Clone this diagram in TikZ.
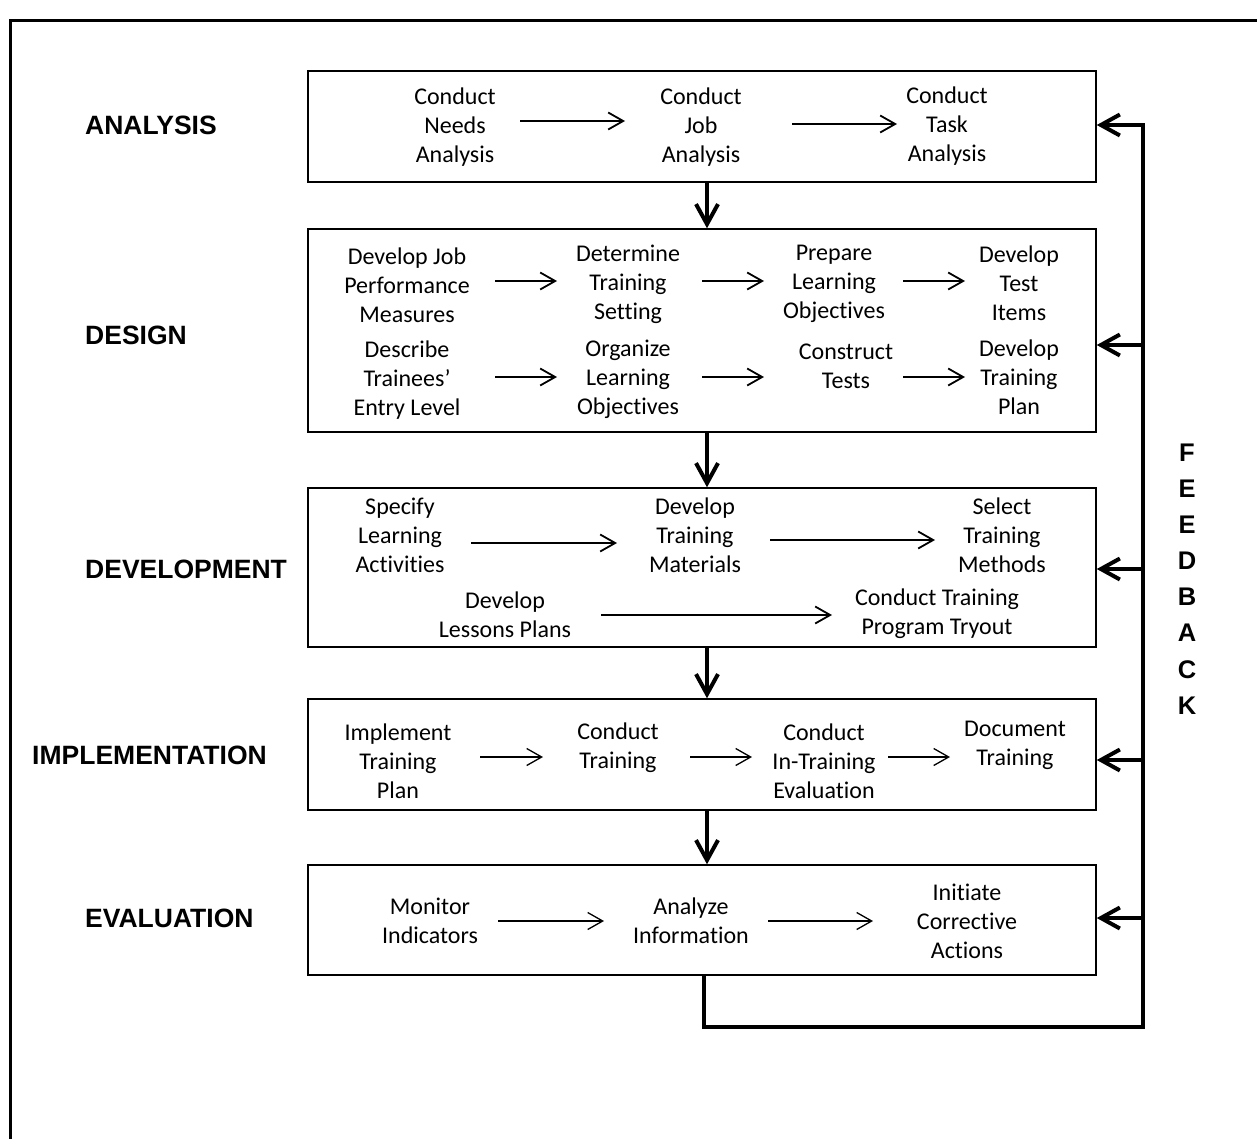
\documentclass[tikz,border=0pt]{standalone}
\usepackage{fontspec}
\setmainfont{Carlito}[Ligatures={NoCommon}]
\newfontfamily\labfont{Liberation Sans}
\usetikzlibrary{arrows.meta}
\begin{document}
\begin{tikzpicture}[x=1pt,y=-1pt,
  txt/.style={align=center,inner sep=0pt,font=\fontsize{24}{29}\selectfont},
  lab/.style={anchor=west,inner sep=0pt,font=\labfont\bfseries\fontsize{26.5}{30}\selectfont},
  box/.style={draw,line width=1.5pt,rectangle,minimum width=788pt,inner sep=0pt},
  ia/.style={line width=1.8pt,-{Straight Barb[length=15pt,width=17pt]}},
  ib/.style={line width=1.3pt,-{Straight Barb[length=15pt,width=17pt]}},
  da/.style={line width=4pt,-{Straight Barb[length=20pt,width=22pt]}},
  fb/.style={line width=4pt},
  fa/.style={line width=4pt,-{Straight Barb[length=19pt,width=21pt]}}]
\useasboundingbox (0,0) rectangle (1257,1138);
% outer frame
\draw[line width=3pt] (10,1140) -- (10,20) -- (1260,20);

% boxes
\node[box,minimum height=111pt] (BA) at (702,126.5) {};
\node[box,minimum height=203pt] (BD) at (702,330.5) {};
\node[box,minimum height=159pt] (BV) at (702,567.5) {};
\node[box,minimum height=111pt] (BI) at (702,754.5) {};
\node[box,minimum height=110pt] (BE) at (702,920) {};

% stage labels
\node[lab] (LA) at (85,125) {ANALYSIS};
\node[lab] (LD) at (85,335) {DESIGN};
\node[lab] (LV) at (85,569) {DEVELOPMENT};
\node[lab] (LI) at (32,755) {IMPLEMENTATION};
\node[lab] (LE) at (85,918) {EVALUATION};

% analysis
\node[txt] (A1) at (455,127) {Conduct\\Needs\\Analysis};
\node[txt] (A2) at (701,127) {Conduct\\Job\\Analysis};
\node[txt] (A3) at (947,126) {Conduct\\Task\\Analysis};
\draw[ia] ([shift={(65,-6)}]A1.center) -- ([shift={(-76,-6)}]A2.center);
\draw[ia] ([shift={(91,-3)}]A2.center) -- ([shift={(-50,-2)}]A3.center);

% design
\node[txt] (D1) at (407,285) {Develop Job\\Performance\\Measures};
\node[txt] (D2) at (628,284) {Determine\\Training\\Setting};
\node[txt] (D3) at (834,284) {Prepare\\Learning\\Objectives};
\node[txt] (D4) at (1019,283) {Develop\\Test\\Items};
\draw[ia] ([shift={(88,-4)}]D1.center) -- ([shift={(-71,-3)}]D2.center);
\draw[ia] ([shift={(74,-3)}]D2.center) -- ([shift={(-70,-3)}]D3.center);
\draw[ia] ([shift={(69,-3)}]D3.center) -- ([shift={(-54,-2)}]D4.center);
\node[txt] (D5) at (407,380) {Describe\\Trainees’\\Entry Level};
\node[txt] (D6) at (628,379) {Organize\\Learning\\Objectives};
\node[txt] (D7) at (846,366) {Construct\\Tests};
\node[txt] (D8) at (1019,377) {Develop\\Training\\Plan};
\draw[ia] ([shift={(88,-3)}]D5.center) -- ([shift={(-71,-2)}]D6.center);
\draw[ia] ([shift={(74,-2)}]D6.center) -- ([shift={(-82,11)}]D7.center);
\draw[ia] ([shift={(57,11)}]D7.center) -- ([shift={(-54,0)}]D8.center);

% development
\node[txt] (V1) at (400,535) {Specify\\Learning\\Activities};
\node[txt] (V2) at (695,535) {Develop\\Training\\Materials};
\node[txt] (V3) at (1002,535) {Select\\Training\\Methods};
\draw[ia] ([shift={(71,8)}]V1.center) -- ([shift={(-78,8)}]V2.center);
\draw[ia] ([shift={(75,5)}]V2.center) -- ([shift={(-67,5)}]V3.center);
\node[txt] (V4) at (505,615) {Develop\\Lessons Plans};
\node[txt] (V5) at (937,614) {Conduct Training\\Program Tryout};
\draw[ia] ([shift={(96,0)}]V4.center) -- ([shift={(-105,1)}]V5.center);

% implementation
\node[txt] (I1) at (398,761) {Implement\\Training\\Plan};
\node[txt] (I2) at (618,748) {Conduct\\Training};
\node[txt] (I3) at (824,761) {Conduct\\In-Training\\Evaluation};
\node[txt] (I4) at (1015,745) {Document\\Training};
\draw[ib] ([shift={(82,-4)}]I1.center) -- ([shift={(-75,9)}]I2.center);
\draw[ib] ([shift={(72,9)}]I2.center) -- ([shift={(-72,-4)}]I3.center);
\draw[ib] ([shift={(64,-4)}]I3.center) -- ([shift={(-65,12)}]I4.center);

% evaluation
\node[txt] (E1) at (430,921) {Monitor\\Indicators};
\node[txt] (E2) at (691,921) {Analyze\\Information};
\node[txt] (E3) at (967,921) {Initiate\\Corrective\\Actions};
\draw[ib] ([shift={(68,0)}]E1.center) -- ([shift={(-87,0)}]E2.center);
\draw[ib] ([shift={(77,0)}]E2.center) -- ([shift={(-94,0)}]E3.center);

% stage-to-stage arrows
\draw[da] ([xshift=5pt]BA.south) -- ([xshift=5pt]BD.north);
\draw[da] ([xshift=5pt]BD.south) -- ([xshift=5pt]BV.north);
\draw[da] ([xshift=5pt]BV.south) -- ([xshift=5pt]BI.north);
\draw[da] ([xshift=5pt]BI.south) -- ([xshift=5pt]BE.north);

% feedback loop
\coordinate (fl) at (704,1027);
\coordinate (fr) at (1143,1027);
\coordinate (ft) at (1143,125);
\draw[fb,line join=miter] ([xshift=2pt]BE.south) -- (fl) -- (fr) -- (ft);
\draw[fa] ([xshift=2pt]ft) -- (ft -| BA.east);
\draw[fa] (ft |- 0,345) -- (BD.east |- 0,345);
\draw[fa] (ft |- 0,569) -- (BV.east |- 0,569);
\draw[fa] (ft |- 0,760) -- (BI.east |- 0,760);
\draw[fa] (ft |- 0,918) -- (BE.east |- 0,918);
\node[align=center,inner sep=0pt,font=\labfont\bfseries\fontsize{25.5}{36.1}\selectfont] (FB) at (1187,579) {F\\E\\E\\D\\B\\A\\C\\K};
\end{tikzpicture}
\end{document}
